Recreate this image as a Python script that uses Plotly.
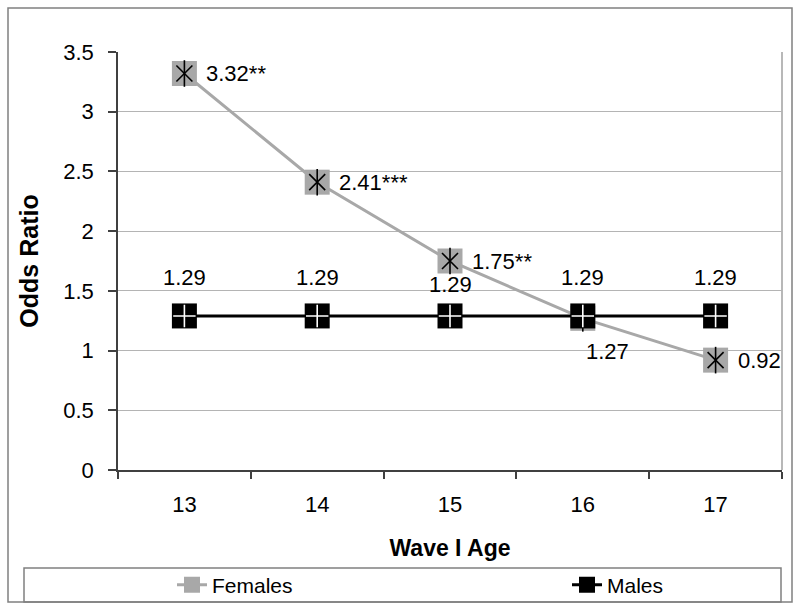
import plotly.graph_objects as go

ages = ["13", "14", "15", "16", "17"]
females = [3.32, 2.41, 1.75, 1.27, 0.92]
males = [1.29, 1.29, 1.29, 1.29, 1.29]
female_labels = ["3.32**", "2.41***", "1.75**", "1.27", "0.92"]
male_labels = ["1.29", "1.29", "1.29", "1.29", "1.29"]
y_ticks = [0, 0.5, 1, 1.5, 2, 2.5, 3, 3.5]
y_tick_text = ["0", "0.5", "1", "1.5", "2", "2.5", "3", "3.5"]

FONT = "Liberation Sans, Arial, sans-serif"
GRAY = "#a8a8a8"
LBL = 22

fig = go.Figure()

fig.add_trace(go.Scatter(
    x=ages, y=females, mode="lines+markers", name="Females", legend="legend",
    line=dict(color=GRAY, width=3),
    marker=dict(symbol="square", size=25, color=GRAY, line=dict(width=0)),
))
fig.add_trace(go.Scatter(
    x=ages, y=males, mode="lines+markers", name="Males", legend="legend2",
    line=dict(color="#000000", width=3),
    marker=dict(symbol="square", size=25, color="#000000", line=dict(width=0)),
))
fig.add_trace(go.Scatter(
    x=ages, y=females, mode="markers", showlegend=False, hoverinfo="skip",
    marker=dict(symbol="x-thin", size=16, color="#000000", line=dict(width=1.6, color="#000000")),
))
fig.add_trace(go.Scatter(
    x=ages, y=females, mode="markers", showlegend=False, hoverinfo="skip",
    marker=dict(symbol="line-ns", size=19, color="#000000", line=dict(width=1.6, color="#000000")),
))
fig.add_trace(go.Scatter(
    x=ages, y=males, mode="markers", showlegend=False, hoverinfo="skip",
    marker=dict(symbol="cross-thin", size=16, color="#ffffff", line=dict(width=1.6, color="#ffffff")),
))

annotations = []
for i, (v, t) in enumerate(zip(females, female_labels)):
    if t == "1.27":
        annotations.append(dict(x=i, y=v, xref="x", yref="y", text=t, showarrow=False,
                                xanchor="center", yanchor="middle", xshift=25, yshift=-33,
                                font=dict(size=LBL, family=FONT, color="#000")))
    else:
        annotations.append(dict(x=i, y=v, xref="x", yref="y", text=t, showarrow=False,
                                xanchor="left", yanchor="middle", xshift=20, yshift=0,
                                font=dict(size=LBL, family=FONT, color="#000")))
for i, (v, t) in enumerate(zip(males, male_labels)):
    ys = 31 if i == 2 else 38
    annotations.append(dict(x=i, y=v, xref="x", yref="y", text=t, showarrow=False,
                            xanchor="center", yanchor="middle", xshift=0, yshift=ys,
                            font=dict(size=LBL, family=FONT, color="#000")))

L, R, T, B = 118, 18, 52, 139
W, H = 800, 609
pw, ph = W - L - R, H - T - B

def px_x(p):
    return (p - L) / pw

def px_y(p):
    return (H - B - p) / ph

shapes = [
    dict(type="rect", xref="paper", yref="paper", x0=px_x(8), x1=px_x(792), y0=px_y(602), y1=px_y(8),
         line=dict(color="#808080", width=1.5), layer="below"),
    dict(type="rect", xref="paper", yref="paper", x0=px_x(24), x1=px_x(781), y0=px_y(602), y1=px_y(568),
         line=dict(color="#808080", width=1.5), layer="below"),
    dict(type="line", xref="paper", yref="paper", x0=1, x1=1, y0=0, y1=1,
         line=dict(color="#a0a0a0", width=1.5), layer="below"),
]

legend_common = dict(orientation="h", xanchor="left", yanchor="middle",
                     font=dict(size=21, family=FONT, color="#000"),
                     bgcolor="rgba(0,0,0,0)", borderwidth=0)

fig.update_layout(
    width=W, height=H,
    margin=dict(l=L, r=R, t=T, b=B, pad=0, autoexpand=False),
    paper_bgcolor="white", plot_bgcolor="white",
    font=dict(family=FONT, size=LBL, color="#000"),
    showlegend=True,
    legend=dict(x=px_x(172), y=px_y(585), **legend_common),
    legend2=dict(x=px_x(567), y=px_y(585), **legend_common),
    xaxis=dict(type="category", categoryorder="array", categoryarray=ages, range=[-0.5, 4.5],
               showgrid=False, zeroline=False, showline=True, linecolor="#404040", linewidth=1.5,
               ticks="outside", tickson="boundaries", ticklen=7, tickcolor="#404040", tickwidth=1.5,
               tickfont=dict(size=LBL, family=FONT), ticklabelstandoff=14, automargin=False,
               title=dict(text="<b>Wave I Age</b>", font=dict(size=23, family=FONT), standoff=24)),
    yaxis=dict(range=[0, 3.5], tickvals=y_ticks, ticktext=y_tick_text,
               showgrid=True, gridcolor="#b4b4b4", gridwidth=1.2, zeroline=False,
               showline=True, linecolor="#404040", linewidth=1.5,
               ticks="outside", ticklen=8, tickcolor="#404040", tickwidth=1.5,
               tickfont=dict(size=LBL, family=FONT), ticklabelstandoff=10, automargin=False,
               title=dict(text="<b>Odds Ratio</b>", font=dict(size=25, family=FONT), standoff=18)),
    annotations=annotations,
    shapes=shapes,
)

fig.write_html("out.html", config={"displayModeBar": False},
               post_script="document.body.style.margin='0';")
